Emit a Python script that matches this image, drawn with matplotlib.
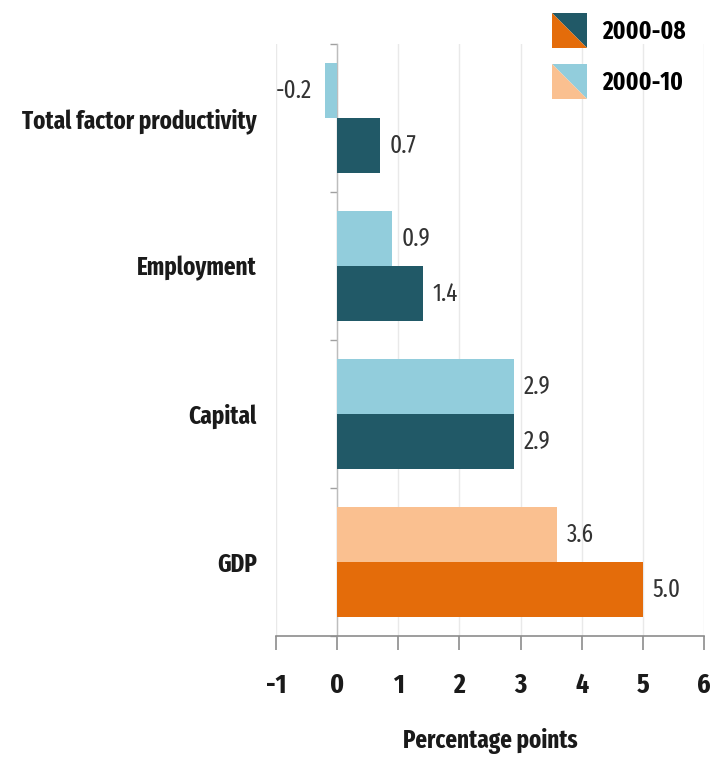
import matplotlib
matplotlib.use("Agg")
import matplotlib.pyplot as plt
from matplotlib.patches import Polygon
from matplotlib.legend_handler import HandlerBase

plt.rcParams["axes.unicode_minus"] = False

# Contributions to growth, percentage points
categories = ["Total factor productivity", "Employment", "Capital", "GDP"]
growth_2000_08 = [0.7, 1.4, 2.9, 5.0]
growth_2000_10 = [-0.2, 0.9, 2.9, 3.6]
period_labels = ["2000-08", "2000-10"]
x_ticks = [-1, 0, 1, 2, 3, 4, 5, 6]

TEAL_DARK, TEAL_LIGHT = "#215967", "#92CDDC"
ORANGE_DARK, ORANGE_LIGHT = "#E46C0A", "#FAC090"

LABEL_FONT = "Fira Sans Extra Condensed"
TEXT_COLOR = "#1a1a1a"


class SplitSwatch:
    """Legend key holding two colours split along the diagonal."""
    def __init__(self, upper, lower):
        self.upper = upper
        self.lower = lower


class SplitSquareHandler(HandlerBase):
    def create_artists(self, legend, orig_handle, xdescent, ydescent,
                       width, height, fontsize, trans):
        # square key, as wide as the handle box, centred on the row
        x0 = -xdescent
        side = width
        yc = -ydescent + height / 2
        yb, yt = yc - side / 2, yc + side / 2
        upper = Polygon([(x0, yt), (x0 + side, yt), (x0 + side, yb)],
                        closed=True, facecolor=orig_handle.upper, edgecolor="none",
                        transform=trans)
        lower = Polygon([(x0, yt), (x0, yb), (x0 + side, yb)],
                        closed=True, facecolor=orig_handle.lower, edgecolor="none",
                        transform=trans)
        return [upper, lower]


fig = plt.figure(figsize=(7.18, 7.59), dpi=100)
W, H = 718, 759
ax = fig.add_axes([276 / W, 1 - 636 / H, 428 / W, 592 / H])

n = len(categories)
ypos = [n - 1 - i for i in range(n)]
bar_h = 0.37
off = bar_h / 2

for i, cat in enumerate(categories):
    y = ypos[i]
    if cat == "GDP":
        c_dark, c_light = ORANGE_DARK, ORANGE_LIGHT
    else:
        c_dark, c_light = TEAL_DARK, TEAL_LIGHT
    ax.barh(y + off, growth_2000_10[i], height=bar_h, color=c_light, zorder=3)
    ax.barh(y - off, growth_2000_08[i], height=bar_h, color=c_dark, zorder=3)
    for v, yy in ((growth_2000_10[i], y + off), (growth_2000_08[i], y - off)):
        ax.annotate(f"{v:.1f}", xy=(v, yy), xytext=(7 if v >= 0 else -9, 0),
                    textcoords="offset points", ha="left" if v >= 0 else "right",
                    va="center", fontsize=18, family=LABEL_FONT, color="#333333")

ax.set_xlim(-1, 6)
ax.set_ylim(-0.5, n - 0.5)

# x axis
ax.set_xticks(x_ticks)
ax.set_xticklabels([str(t) for t in x_ticks], family=LABEL_FONT, fontweight="bold",
                   fontsize=20, color=TEXT_COLOR)
ax.tick_params(axis="x", direction="out", length=10, width=1.2, color="#8c8c8c", pad=16)
ax.set_xlabel("Percentage points", family=LABEL_FONT, fontweight="bold", fontsize=18,
              color=TEXT_COLOR, labelpad=21)
ax.grid(axis="x", color="#e9e9e9", linewidth=1.0, zorder=0)
ax.set_axisbelow(True)

# y axis sits on zero with short ticks between categories
ax.spines["left"].set_position(("data", 0))
ax.spines["left"].set_color("#bdbdbd")
ax.spines["left"].set_linewidth(1.0)
ax.set_yticks(ypos)
ax.set_yticklabels(categories, family=LABEL_FONT, fontweight="bold", fontsize=18,
                   color=TEXT_COLOR)
ax.set_yticks([k - 0.5 for k in range(n + 1)], minor=True)
ax.tick_params(axis="y", which="major", length=0, pad=58)
ax.tick_params(axis="y", which="minor", direction="out", length=5, width=1, color="#a0a0a0")

ax.spines["bottom"].set_color("#8c8c8c")
ax.spines["bottom"].set_linewidth(1.2)
for s in ("top", "right"):
    ax.spines[s].set_visible(False)

handles = [SplitSwatch(TEAL_DARK, ORANGE_DARK), SplitSwatch(TEAL_LIGHT, ORANGE_LIGHT)]
fig.legend(handles, period_labels, handler_map={SplitSwatch: SplitSquareHandler()},
           loc="upper left", bbox_to_anchor=(552 / W, 1 - 16 / H),
           bbox_transform=fig.transFigure, frameon=False, borderpad=0,
           borderaxespad=0, handlelength=1.4, handleheight=1.4, handletextpad=0.6,
           labelspacing=0.9, prop={"family": LABEL_FONT, "weight": "bold", "size": 18})

fig.savefig("out.png", dpi=100)
